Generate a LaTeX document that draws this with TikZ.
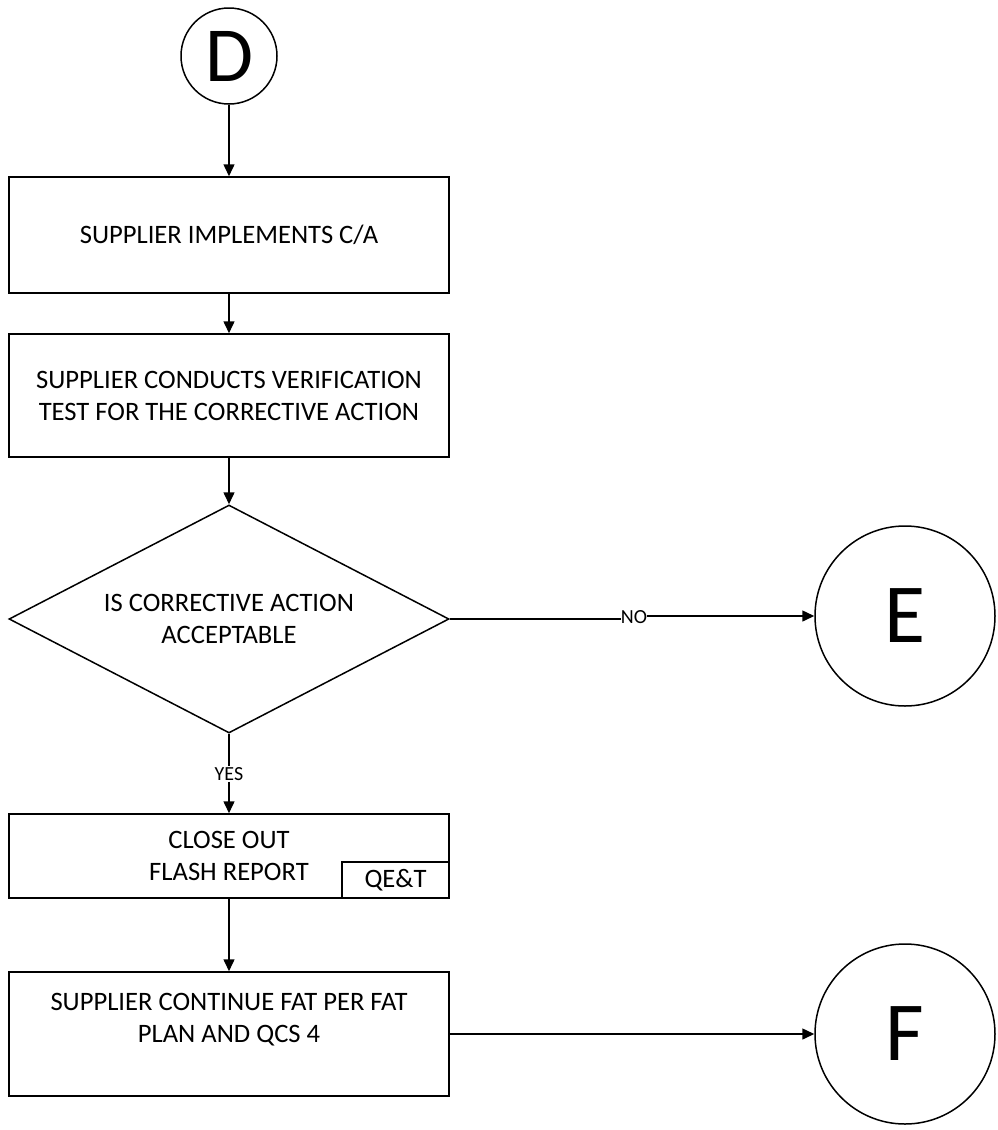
\documentclass[tikz,border=0pt]{standalone}
\usepackage{fontspec}
\setmainfont{Carlito}
\usetikzlibrary{shapes.geometric, arrows.meta}

\begin{document}
\begin{tikzpicture}[x=1pt, y=-1pt,
        every node/.style={font=\fontsize{26.6}{32}\selectfont, align=center},
        box/.style={draw, line width=1.5pt, minimum width=440pt, inner sep=0pt},
        conn/.style={draw, circle, line width=1.5pt, minimum size=#1, inner sep=0pt},
        tag/.style={font=\fontsize{20}{24}\selectfont, inner sep=1pt},
        arr/.style={line width=1.5pt, -{Triangle[length=12pt, width=11pt]}},
        plain/.style={line width=1.5pt}]

    % the frame
    \useasboundingbox (0, 0) rectangle (997, 1130);

    % the connectors
    \node[conn=96pt, font=\fontsize{78}{78}\selectfont] (D) at (229, 56) {D};
    \node[conn=180pt, font=\fontsize{84}{84}\selectfont] (E) at (905, 616) {E};
    \node[conn=180pt, font=\fontsize{84}{84}\selectfont] (F) at (905, 1034) {F};

    % the body
    \node[box, minimum height=116pt] (impl) at (229, 235) {SUPPLIER IMPLEMENTS C/A};
    \node[box, minimum height=123pt] (verify) at (229, 395.5) {SUPPLIER CONDUCTS VERIFICATION\\TEST FOR THE CORRECTIVE ACTION};
    \node[draw, diamond, aspect=1.93, minimum width=440pt, minimum height=228pt, inner sep=0pt, line width=1.5pt] (accept) at (229, 619) {IS CORRECTIVE ACTION\\ACCEPTABLE};
    \node[box, minimum height=84pt] (close) at (229, 856) {CLOSE OUT\\FLASH REPORT};
    \node[draw, line width=1.5pt, minimum width=107pt, minimum height=36pt, inner sep=0pt, anchor=south east] (qet) at (close.south east) {QE\&T};
    \node[box, minimum height=124pt] (fat) at (229, 1034) {SUPPLIER CONTINUE FAT PER FAT\\PLAN AND QCS 4\\\mbox{}};

    % labels
    \node[tag] (yes) at (229, 774) {YES};
    \node[tag, inner sep=0pt] (no) at (634, 617) {NO};

    % arrows
    \draw[arr] (D) -- (impl);
    \draw[arr] (impl) -- (verify);
    \draw[arr] (verify) -- (accept);
    \draw[plain] (accept.south) -- (yes.north);
    \draw[arr] (yes.south) -- (close.north);
    \draw[plain] (accept.east) -- (no.west |- accept.east);
    \draw[arr] (no.east |- E.west) -- (E.west);
    \draw[arr] (close.south) -- (fat.north);
    \draw[arr] (fat.east) -- (F.west);

\end{tikzpicture}
\end{document}
